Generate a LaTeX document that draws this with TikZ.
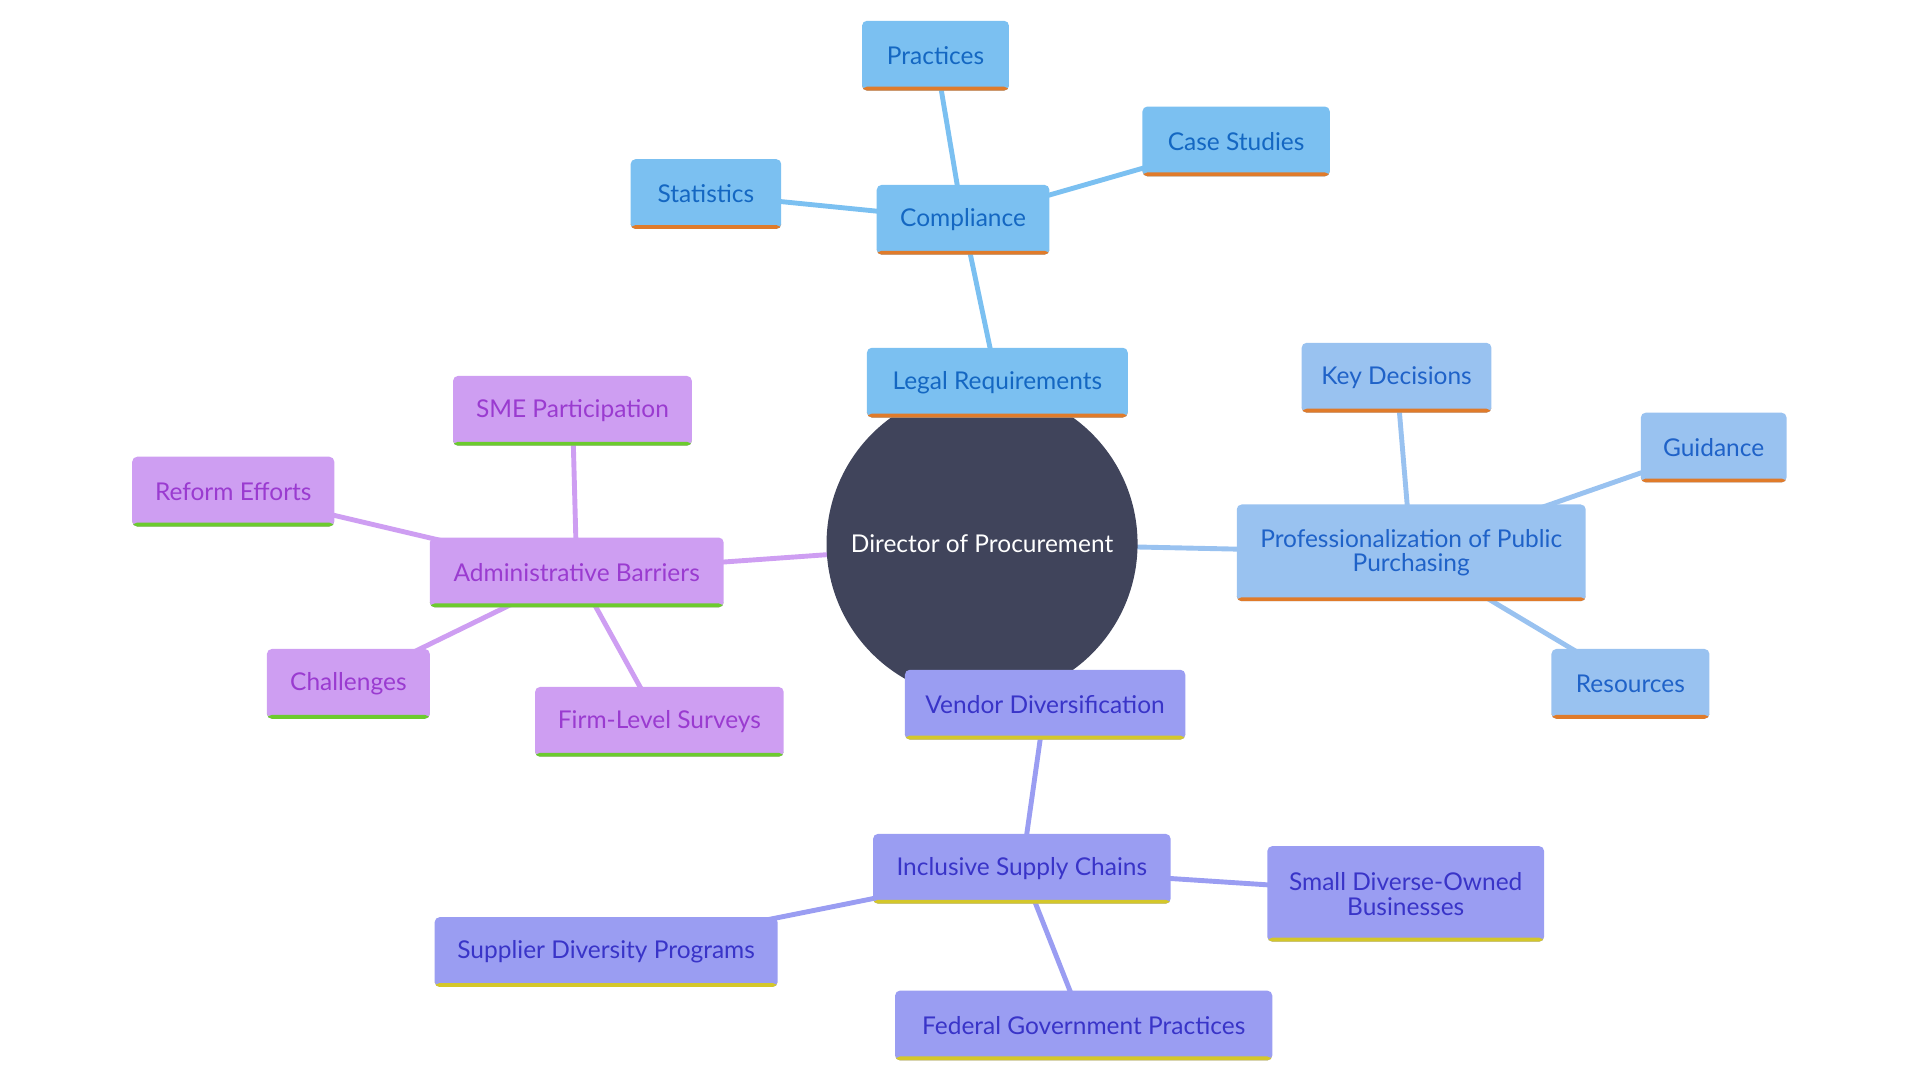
\documentclass[tikz,border=0pt]{standalone}
\usepackage{fontspec}
\setmainfont{Lato}
\usetikzlibrary{backgrounds}
\definecolor{cmpfill}{HTML}{7BC0F1}
\definecolor{cmptext}{HTML}{1467C2}
\definecolor{prffill}{HTML}{99C2F0}
\definecolor{prftext}{HTML}{1F62C8}
\definecolor{admfill}{HTML}{CE9EF2}
\definecolor{admtext}{HTML}{9A3BD0}
\definecolor{vndfill}{HTML}{9A9DF2}
\definecolor{vndtext}{HTML}{3934C8}
\definecolor{barorange}{HTML}{E07B2A}
\definecolor{bargreen}{HTML}{6CCB2E}
\definecolor{baryellow}{HTML}{D4C72A}
\definecolor{hub}{HTML}{40445B}
\tikzset{
	box/.style={rectangle, rounded corners=2pt, minimum height=28.5pt, align=center, font=\fontsize{10}{10}\selectfont, inner sep=2pt},
	bar/.style={path picture={\fill[#1] ([yshift=1.6pt]path picture bounding box.south west) rectangle (path picture bounding box.south east);}},
	cmp/.style={box, fill=cmpfill, text=cmptext, bar=barorange},
	prf/.style={box, fill=prffill, text=prftext, bar=barorange},
	adm/.style={box, fill=admfill, text=admtext, bar=bargreen},
	vnd/.style={box, fill=vndfill, text=vndtext, bar=baryellow},
	link/.style={line width=2pt}
}
\begin{document}
\begin{tikzpicture}[x=0.5pt, y=-0.5pt]
\useasboundingbox (0,0) rectangle (1568,882);
\node [circle, fill=hub, text=white, minimum size=127pt, font=\fontsize{10}{10}\selectfont] (dir) at (802,444) {Director of Procurement};
% legal requirements branch
\node [cmp, minimum width=106.5pt] (legal) at (814.5,312.5) {Legal Requirements};
\node [cmp, minimum width=70.5pt] (comp) at (786.5,179.5) {Compliance};
\node [cmp, minimum width=60pt] (prac) at (764,45.5) {Practices};
\node [cmp, minimum width=76.5pt] (case) at (1009.5,115.5) {Case Studies};
\node [cmp, minimum width=61.5pt] (stat) at (576.5,158.5) {Statistics};
% professionalization branch
\node [prf, minimum width=142.5pt, minimum height=39.5pt] (prof) at (1152.5,451.5) {Professionalization of Public\\Purchasing};
\node [prf, minimum width=77.5pt] (key) at (1140.5,308.5) {Key Decisions};
\node [prf, minimum width=59.5pt] (guid) at (1399.5,365.5) {Guidance};
\node [prf, minimum width=64.5pt] (res) at (1331.5,558.5) {Resources};
% administrative barriers branch
\node [adm, minimum width=120pt] (admin) at (471,467.5) {Administrative Barriers};
\node [adm, minimum width=97.5pt] (sme) at (467.5,335.5) {SME Participation};
\node [adm, minimum width=82.5pt] (reform) at (190.5,401.5) {Reform Efforts};
\node [adm, minimum width=66.5pt] (chal) at (284.5,558.5) {Challenges};
\node [adm, minimum width=101.5pt] (firm) at (538.5,589.5) {Firm-Level Surveys};
% vendor diversification branch
\node [vnd, minimum width=114.5pt] (vendor) at (853.5,575.5) {Vendor Diversification};
\node [vnd, minimum width=121.5pt] (incl) at (834.5,709.5) {Inclusive Supply Chains};
\node [vnd, minimum width=113pt, minimum height=39pt] (small) at (1148,730) {Small Diverse-Owned\\Businesses};
\node [vnd, minimum width=140pt] (supp) at (495,777.5) {Supplier Diversity Programs};
\node [vnd, minimum width=154pt] (fed) at (885,837.5) {Federal Government Practices};
\begin{scope}[on background layer]
\draw [link, cmpfill] (dir.center) -- (legal.center) -- (comp.center);
\draw [link, cmpfill] (comp.center) -- (prac.center);
\draw [link, cmpfill] (comp.center) -- (case.center);
\draw [link, cmpfill] (comp.center) -- (stat.center);
\draw [link, prffill] (dir.center) -- (prof.center);
\draw [link, prffill] (prof.center) -- (key.center);
\draw [link, prffill] (prof.center) -- (guid.center);
\draw [link, prffill] (prof.center) -- (res.center);
\draw [link, admfill] (dir.center) -- (admin.center);
\draw [link, admfill] (admin.center) -- (sme.center);
\draw [link, admfill] (admin.center) -- (reform.center);
\draw [link, admfill] (admin.center) -- (chal.center);
\draw [link, admfill] (admin.center) -- (firm.center);
\draw [link, vndfill] (dir.center) -- (vendor.center) -- (incl.center);
\draw [link, vndfill] (incl.center) -- (small.center);
\draw [link, vndfill] (incl.center) -- (supp.center);
\draw [link, vndfill] (incl.center) -- (fed.center);
\end{scope}
\end{tikzpicture}
\end{document}
